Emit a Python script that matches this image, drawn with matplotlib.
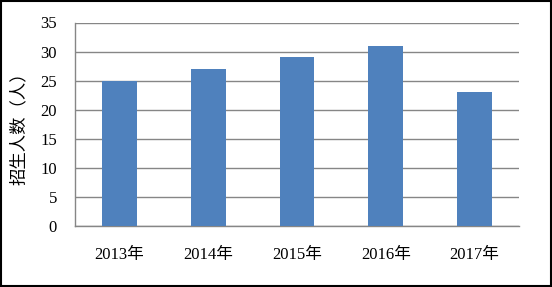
import matplotlib.pyplot as plt
from matplotlib.patches import Rectangle

# Data
years = ["2013年", "2014年", "2015年", "2016年", "2017年"]
students = [25, 27, 29, 31, 23]
yticks = [0, 5, 10, 15, 20, 25, 30, 35]

plt.rcParams['font.family'] = ['Liberation Serif', 'Noto Sans CJK SC']

fig = plt.figure(figsize=(5.52, 2.87), dpi=100)
ax = fig.add_axes([75 / 552, 1 - 226 / 287, 444 / 552, 203.5 / 287])

ax.bar(range(len(years)), students, width=0.39, color="#4F81BD", zorder=3)

ax.set_xlim(-0.5, len(years) - 0.5)
ax.set_ylim(0, 35)
ax.set_yticks(yticks)
ax.set_xticks(range(len(years)))
ax.set_xticklabels(years)
ax.tick_params(axis="both", length=0, labelsize=12)
ax.tick_params(axis="y", pad=13)
ax.tick_params(axis="x", pad=15)

ax.grid(axis="y", color="#868686", linewidth=1.0, zorder=0)
for side in ["top", "right"]:
    ax.spines[side].set_visible(False)
for side in ["left", "bottom"]:
    ax.spines[side].set_color("#868686")
    ax.spines[side].set_linewidth(1.0)

ax.set_ylabel("招生人数（人）", fontsize=12.5, family=["Noto Sans CJK SC"], labelpad=9)

# outer frame
fig.patches.append(Rectangle((0.002, 0.004), 0.996, 0.994, transform=fig.transFigure,
                             fill=False, edgecolor="black", linewidth=1.5))

fig.savefig("out.png", dpi=100)
